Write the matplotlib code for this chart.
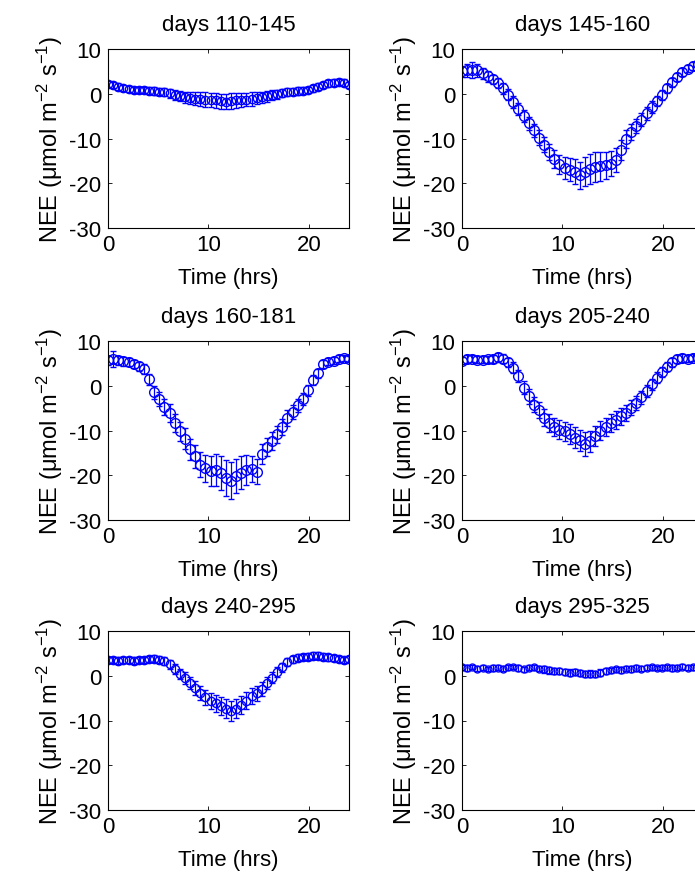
import numpy as np
import matplotlib
matplotlib.use("Agg")
import matplotlib.pyplot as plt

# ── fonts: Helvetica look-alike, as in the MATLAB original ───────────────────
FONT = 'Liberation Sans'
plt.rcParams['font.family'] = [FONT, 'DejaVu Sans']
plt.rcParams['mathtext.fontset'] = 'custom'
plt.rcParams['mathtext.rm'] = FONT
plt.rcParams['mathtext.it'] = FONT + ':italic'
plt.rcParams['axes.unicode_minus'] = False   # MATLAB uses a plain hyphen
FS = 16

# ── data: diurnal mean NEE (48 bins over the day) and error bars ────────────
hours = np.linspace(0, 24, 48)

titles = ['days 110-145', 'days 145-160', 'days 160-181',
          'days 205-240', 'days 240-295', 'days 295-325']

nee_110_145 = [2.2, 2.0, 1.6, 1.3, 1.1, 0.9, 0.8, 0.8, 0.7, 0.6, 0.5, 0.4,
               0.1, -0.2, -0.5, -0.8, -1.0, -1.1, -1.2, -1.3, -1.4, -1.5, -1.7, -1.8,
               -1.6, -1.5, -1.4, -1.3, -1.2, -1.0, -0.8, -0.6, -0.3, -0.1, 0.1, 0.3,
               0.5, 0.6, 0.7, 0.9, 1.2, 1.6, 2.0, 2.3, 2.5, 2.6, 2.5, 1.9]
err_110_145 = [0.7, 0.7, 0.7, 0.7, 0.7, 0.7, 0.7, 0.7, 0.8, 0.8, 0.8, 0.9,
               1.0, 1.1, 1.2, 1.3, 1.4, 1.5, 1.5, 1.6, 1.6, 1.6, 1.7, 1.7,
               1.7, 1.6, 1.6, 1.5, 1.5, 1.4, 1.3, 1.2, 1.1, 1.0, 0.9, 0.9,
               0.8, 0.8, 0.8, 0.7, 0.7, 0.7, 0.7, 0.7, 0.7, 0.7, 0.7, 0.7]

nee_145_160 = [5.0, 5.2, 5.4, 5.2, 4.6, 3.9, 3.2, 2.4, 1.2, -0.2, -1.8, -3.4,
               -5.0, -6.6, -8.2, -9.8, -11.4, -13.0, -14.6, -15.8, -16.6, -17.0, -17.4, -18.2,
               -17.4, -16.8, -16.4, -16.2, -16.0, -15.6, -14.8, -12.5, -10.2, -8.6, -7.2, -5.8,
               -4.4, -3.0, -1.6, -0.2, 1.2, 2.6, 3.8, 4.8, 5.6, 6.2, 6.6, 6.8]
err_145_160 = [1.2, 1.5, 1.8, 1.4, 1.2, 1.2, 1.1, 1.2, 1.3, 1.2, 1.3, 1.3,
               1.4, 1.5, 1.5, 1.6, 1.7, 1.8, 2.0, 2.2, 2.4, 2.6, 2.8, 3.0,
               3.2, 3.4, 3.4, 3.2, 3.0, 2.8, 2.6, 2.2, 2.0, 1.8, 1.6, 1.5,
               1.4, 1.3, 1.2, 1.1, 1.0, 1.0, 0.9, 0.9, 0.8, 0.8, 0.8, 0.8]

nee_160_181 = [5.7, 5.9, 5.7, 5.5, 5.3, 4.9, 4.4, 3.8, 1.4, -1.5, -3.0, -4.8,
               -6.0, -8.3, -10.2, -11.8, -14.2, -15.8, -17.6, -18.4, -19.0, -18.8, -19.6, -20.6,
               -21.2, -20.2, -19.4, -18.8, -18.6, -19.2, -15.2, -13.6, -12.4, -10.8, -9.2, -7.2,
               -5.8, -4.4, -3.0, -1.0, 1.2, 2.8, 4.8, 5.4, 5.6, 6.0, 6.2, 6.0]
err_160_181 = [1.0, 1.8, 1.0, 1.0, 0.9, 0.9, 1.0, 1.1, 1.3, 1.5, 1.6, 1.8,
               2.0, 2.0, 2.2, 2.3, 2.4, 2.6, 2.8, 3.0, 3.4, 3.6, 3.8, 4.0,
               4.2, 3.8, 3.6, 3.4, 3.0, 2.8, 2.2, 2.0, 2.0, 1.9, 1.8, 1.7,
               1.6, 1.5, 1.4, 1.2, 1.1, 1.0, 0.9, 0.8, 0.8, 0.8, 0.7, 0.7]

nee_205_240 = [5.6, 5.9, 6.0, 5.8, 5.8, 5.9, 6.0, 6.4, 6.0, 5.2, 4.0, 2.2,
               -0.4, -2.4, -4.2, -5.4, -7.2, -8.4, -9.2, -9.8, -10.2, -10.8, -11.6, -12.2,
               -13.0, -12.4, -11.2, -10.0, -9.2, -8.4, -7.6, -6.8, -6.0, -4.9, -3.8, -2.6,
               -1.2, 0.3, 1.8, 3.0, 4.2, 5.2, 5.9, 6.2, 6.0, 6.3, 6.1, 6.2]
err_205_240 = [0.8, 0.9, 0.8, 0.8, 0.8, 0.8, 0.9, 1.0, 1.0, 1.1, 1.2, 1.3,
               1.5, 1.6, 1.7, 1.8, 1.9, 2.0, 2.0, 2.1, 2.1, 2.2, 2.3, 2.4,
               2.6, 2.4, 2.3, 2.2, 2.1, 2.0, 2.0, 1.9, 1.8, 1.7, 1.6, 1.5,
               1.4, 1.3, 1.2, 1.1, 1.0, 0.9, 0.9, 0.8, 0.8, 0.8, 0.8, 0.8]

nee_240_295 = [3.6, 3.5, 3.4, 3.6, 3.5, 3.4, 3.5, 3.6, 3.7, 3.8, 3.6, 3.3,
               2.6, 1.6, 0.4, -0.5, -1.6, -2.7, -3.9, -4.8, -5.6, -6.2, -6.8, -7.4,
               -7.8, -7.4, -6.6, -5.6, -4.6, -3.9, -3.0, -1.6, -0.4, 0.8, 1.9, 3.0,
               3.7, 4.0, 4.2, 4.3, 4.5, 4.5, 4.3, 4.1, 3.9, 3.7, 3.5, 3.7]
err_240_295 = [0.7, 0.7, 0.7, 0.7, 0.7, 0.7, 0.7, 0.7, 0.7, 0.8, 0.8, 0.9,
               1.0, 1.1, 1.2, 1.3, 1.4, 1.5, 1.6, 1.7, 1.8, 1.9, 2.0, 2.1,
               2.2, 2.1, 2.0, 1.9, 1.8, 1.7, 1.6, 1.4, 1.2, 1.1, 1.0, 0.9,
               0.8, 0.8, 0.7, 0.7, 0.7, 0.7, 0.7, 0.7, 0.7, 0.7, 0.7, 0.7]

nee_295_325 = [1.9, 1.7, 1.9, 1.6, 1.8, 1.5, 1.7, 1.8, 1.6, 1.9, 2.0, 1.7,
               1.4, 1.8, 1.9, 1.6, 1.4, 1.2, 1.1, 1.0, 0.8, 0.7, 0.9, 0.6,
               0.4, 0.5, 0.4, 0.7, 1.0, 1.2, 1.4, 1.3, 1.6, 1.5, 1.7, 1.6,
               1.8, 1.9, 1.7, 1.8, 1.9, 1.7, 1.8, 2.0, 1.8, 1.9, 2.0, 1.9]
err_295_325 = [0.6, 0.6, 0.5, 0.6, 0.6, 0.5, 0.6, 0.6, 0.6, 0.6, 0.5, 0.6,
               0.6, 0.6, 0.6, 0.6, 0.7, 0.7, 0.7, 0.7, 0.7, 0.7, 0.7, 0.7,
               0.7, 0.7, 0.7, 0.7, 0.7, 0.6, 0.6, 0.6, 0.6, 0.6, 0.6, 0.6,
               0.6, 0.6, 0.5, 0.6, 0.6, 0.6, 0.5, 0.6, 0.6, 0.6, 0.6, 0.6]

series = [(nee_110_145, err_110_145), (nee_145_160, err_145_160),
          (nee_160_181, err_160_181), (nee_205_240, err_205_240),
          (nee_240_295, err_240_295), (nee_295_325, err_295_325)]
marker_sizes = [6, 7, 7, 7, 6, 5]

# ── layout: axes placed by pixel so the right column runs off the page ──────
W, H = 695, 878
fig = plt.figure(figsize=(W / 100, H / 100), dpi=100)
lefts = [108, 462]
tops = [50, 342, 632]
ax_w, ax_h = 241, 179

for i, (vals, errs) in enumerate(series):
    row, col = divmod(i, 2)
    x0 = lefts[col]
    y0 = H - (tops[row] + ax_h)
    ax = fig.add_axes([x0 / W, y0 / H, ax_w / W, ax_h / H])
    ax.errorbar(hours, vals, yerr=errs, fmt='o', color='blue',
                mfc='none', mec='blue', ms=marker_sizes[i], mew=1.0,
                elinewidth=0.9, capsize=2.2, capthick=0.9)
    ax.set_xlim(0, 24)
    ax.set_ylim(-30, 10)
    ax.set_xticks([0, 10, 20])
    ax.set_yticks([-30, -20, -10, 0, 10])
    ax.tick_params(direction='in', length=3, width=0.6, labelsize=FS,
                   top=True, right=True)
    ax.tick_params(axis='x', pad=4)
    ax.tick_params(axis='y', pad=5)
    for sp in ax.spines.values():
        sp.set_linewidth(0.8)
    ax.set_title(titles[i], fontsize=FS, pad=14)
    ax.set_xlabel('Time (hrs)', fontsize=FS, labelpad=9)
    ax.set_ylabel('NEE (μmol m$^{-2}$ s$^{-1}$)', fontsize=17, labelpad=3)

fig.savefig('out.png', dpi=100)
